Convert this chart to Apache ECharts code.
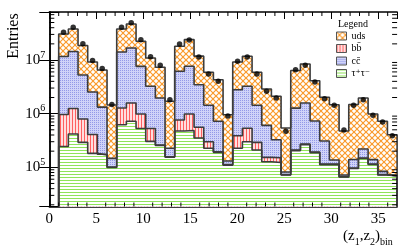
<!DOCTYPE html>
<html><head><meta charset="utf-8">
<script src="https://cdn.jsdelivr.net/npm/echarts@6/dist/echarts.min.js"></script>
<style>html,body{margin:0;padding:0;background:#fff}#c{width:417px;height:247px}</style>
</head><body><div id="c"></div>
<script>
// axis ranges
const xMin = 0, xMax = 37;
const histLo = 1, histHi = 37;
const yMin = 18600, yMax = 7.85e7;
const xTickStep = 5;
// per-bin contributions (35 bins)
const tautau = [2.44e5,4.18e5,2.92e5,1.82e5,1.70e5,9.9e4, 6.22e5,7.20e5,5.29e5,3.05e5,2.55e5,1.55e5, 4.75e5,4.85e5,3.52e5,2.26e5,1.90e5,1.10e5, 2.26e5,3.0e5,2.10e5,1.27e5,1.23e5,7.2e4, 2.05e5,2.65e5,1.88e5,1.12e5,1.12e5,6.6e4, 9.5e4,1.46e5,1.13e5,7.2e4,6.9e4];
const bbbar = [7.20e5,8.29e5,5.03e5,2.26e5,5e3,2e3, 6.52e5,8.59e5,4.56e5,2.24e5,6e3,2e3, 2.86e5,5.0e5,2.05e5,7.4e4,5e3,2e3, 1.62e5,2.33e5,8.2e4,2.6e4,2.8e4,1e3, 5e3,7e3,5e3,3e3,3e3,1e3, 2e3,3e3,2e3,1e3,1e3];
const ccbar = [1.066e7,1.315e7,4.458e6,2.12e6,1.15e6,4.6e4, 1.283e7,1.515e7,6.64e6,2.71e6,1.70e6,7.0e4, 5.40e6,6.65e6,2.91e6,1.131e6,5.25e5,1.9e4, 2.41e6,2.70e6,1.139e6,4.53e5,1.76e5,9e3, 1.06e6,1.31e6,5.36e5,1.94e5,2.2e4,5e3, 4.3e4,7.0e4,2.4e4,1.1e4,2e3];
const uds = [1.890e7,2.342e7,1.338e7,6.65e6,5.18e6,1.303e6, 2.372e7,3.015e7,1.468e7,7.67e6,5.35e6,1.472e6, 1.184e7,1.637e7,8.34e6,4.47e6,3.57e6,8.25e5, 6.38e6,8.49e6,4.47e6,2.27e6,1.78e6,4.58e5, 5.10e6,6.84e6,3.38e6,1.71e6,1.33e6,4.03e5, 1.34e6,1.74e6,8.46e5,6.36e5,3.33e5];
const dataPts = [3.28e7,4.07e7,2.01e7,9.79e6,6.94e6,1.48e6, 4.07e7,4.96e7,2.39e7,1.15e7,7.96e6,1.82e6, 1.99e7,2.36e7,1.14e7,5.48e6,4.01e6,9.04e5, 9.46e6,1.14e7,5.48e6,2.61e6,1.96e6,4.69e5, 6.60e6,7.96e6,3.89e6,1.90e6,1.43e6,4.96e5, 1.43e6,1.82e6,9.32e5,6.99e5,3.88e5];
const names = ['uds', 'bb\u0304', 'cc\u0304', '\u03c4\u207a\u03c4\u207b'];

const FONT = "'Liberation Serif','DejaVu Serif',serif";
const nBins = tautau.length;
const bw = (histHi - histLo) / nBins;
const edges = [];
for (let i = 0; i <= nBins; i++) edges.push(histLo + i * bw);

function cum(...arrs) { return arrs[0].map((_, i) => arrs.reduce((s, a) => s + a[i], 0)); }
const cT = cum(tautau), cB = cum(tautau, bbbar), cC = cum(tautau, bbbar, ccbar), cU = cum(tautau, bbbar, ccbar, uds);
function steps(v) {
  const p = [[histLo, yMin]];
  for (let i = 0; i < nBins; i++) p.push([edges[i], v[i]]);
  p.push([histHi, v[nBins - 1]]);
  p.push([histHi, yMin]);
  return p;
}
function pat(w, h, draw) {
  const c = document.createElement('canvas'); c.width = w; c.height = h;
  const g = c.getContext('2d'); draw(g, w, h);
  return { image: c, repeat: 'repeat' };
}
const udsPat = pat(6, 6, (g, w, h) => {
  g.fillStyle = '#fff'; g.fillRect(0, 0, w, h);
  g.strokeStyle = '#f99a2c'; g.lineWidth = 1.15;
  for (const k of [-6, 0, 6]) {
    g.beginPath(); g.moveTo(k, 0); g.lineTo(k + 6, 6); g.stroke();
    g.beginPath(); g.moveTo(k, 6); g.lineTo(k + 6, 0); g.stroke();
  }
});
const bbPat = pat(3, 3, (g) => { g.fillStyle = '#ffdede'; g.fillRect(0, 0, 3, 3); g.fillStyle = '#ff5f5f'; g.fillRect(0, 0, 1, 3); });
const ccPat = pat(2, 2, (g) => { g.fillStyle = '#d0d3f8'; g.fillRect(0, 0, 2, 2); g.fillStyle = '#9399e8'; g.fillRect(0, 0, 1, 1); });
const ttPat = pat(3, 3, (g) => { g.fillStyle = '#fff'; g.fillRect(0, 0, 3, 3); g.fillStyle = '#8fe35a'; g.fillRect(0, 0, 3, 1); });

function layer(name, vals, fill) {
  return { name, type: 'line', step: 'end', symbol: 'none', data: steps(vals),
    lineStyle: { color: '#3c3c3c', width: 1.6 }, itemStyle: { color: '#3c3c3c' },
    areaStyle: { color: fill, opacity: 1, origin: 'start' }, silent: true };
}
const yMinor = [];
for (let d = 4; d <= 7; d++) for (let m = 2; m <= 9; m++) { const v = m * Math.pow(10, d); if (v > yMin && v < yMax) yMinor.push(v); }
const xMinor = [];
for (let v = xMin + 1; v < xMax; v++) if (v % xTickStep) xMinor.push(v);

const chart = echarts.init(document.getElementById('c'), null, { renderer: 'canvas' });
const axLine = { show: true, lineStyle: { color: '#000', width: 1.5 } };
chart.setOption({
  animation: false,
  backgroundColor: '#fff',
  grid: { left: 49.3, right: 19.9, top: 12, bottom: 40.5 },
  xAxis: [
    { type: 'value', min: xMin, max: xMax, interval: xTickStep, position: 'bottom', axisLine: axLine,
      axisTick: { inside: true, length: 7, lineStyle: { color: '#000' } }, splitLine: { show: false },
      axisLabel: { formatter: v => (v % xTickStep === 0 ? String(v) : ''), fontFamily: FONT, fontSize: 15, color: '#000', margin: 5 } },
    { type: 'value', min: xMin, max: xMax, interval: xTickStep, position: 'top', axisLine: axLine,
      axisTick: { inside: true, length: 7, lineStyle: { color: '#000' } }, splitLine: { show: false }, axisLabel: { show: false } }
  ],
  yAxis: [
    { type: 'log', logBase: 10, min: yMin, max: yMax, position: 'left', axisLine: axLine,
      axisTick: { inside: true, length: 10, lineStyle: { color: '#000' } }, splitLine: { show: false },
      axisLabel: { fontFamily: FONT, fontSize: 15, color: '#000', margin: 4, lineHeight: 20,
        formatter: v => { const e = Math.round(Math.log10(v)); return Math.abs(v / Math.pow(10, e) - 1) < 1e-6 ? '10{sup|' + e + '}' : ''; },
        rich: { sup: { fontFamily: FONT, fontSize: 10, lineHeight: 11, verticalAlign: 'top', color: '#000' } } } },
    { type: 'log', logBase: 10, min: yMin, max: yMax, position: 'right', axisLine: axLine,
      axisTick: { inside: true, length: 10, lineStyle: { color: '#000' } }, splitLine: { show: false }, axisLabel: { show: false } }
  ],
  legend: {
    orient: 'vertical', left: 336, top: 31, itemWidth: 10, itemHeight: 8, itemGap: 2.5, padding: 0,
    textStyle: { fontFamily: FONT, fontSize: 10, color: '#000', lineHeight: 10 },
    data: [
      { name: names[0], icon: 'rect', itemStyle: { color: udsPat, borderColor: '#555', borderWidth: 1 } },
      { name: names[1], icon: 'rect', itemStyle: { color: bbPat, borderColor: '#555', borderWidth: 1 } },
      { name: names[2], icon: 'rect', itemStyle: { color: ccPat, borderColor: '#555', borderWidth: 1 } },
      { name: names[3], icon: 'rect', itemStyle: { color: ttPat, borderColor: '#555', borderWidth: 1 } }
    ], selectedMode: false
  },
  graphic: [
    { type: 'text', x: 14, y: 36, rotation: Math.PI / 2, style: { text: 'Entries', fontFamily: FONT, fontSize: 16, fill: '#000', align: 'center', verticalAlign: 'middle' } },
    { type: 'text', x: 338, y: 24, style: { text: 'Legend', fontFamily: FONT, fontSize: 10, fill: '#000', align: 'left', verticalAlign: 'middle' } },
    { type: 'text', x: 343, y: 225, style: { text: '(z{s|1},z{s|2}){s|bin}', fontFamily: FONT, fontSize: 15, lineHeight: 22, fill: '#000',
        rich: { s: { fontFamily: FONT, fontSize: 10, lineHeight: 11, verticalAlign: 'bottom', fill: '#000' } } } }
  ],
  series: [
    layer(names[0], cU, udsPat),
    layer(names[2], cC, ccPat),
    layer(names[1], cB, bbPat),
    layer(names[3], cT, ttPat),
    { name: 'data', type: 'scatter', symbol: 'circle', symbolSize: 5.5, itemStyle: { color: '#000' }, z: 5,
      data: dataPts.map((v, i) => [edges[i] + bw / 2, v]) },
    { type: 'custom', silent: true, clip: false, z: 6, data: yMinor.map(v => [xMin, v]),
      renderItem: (p, api) => { const a = api.coord([xMin, api.value(1)]), b = api.coord([xMax, api.value(1)]);
        return { type: 'group', children: [
          { type: 'line', shape: { x1: a[0], y1: a[1], x2: a[0] + 5, y2: a[1] }, style: { stroke: '#000', lineWidth: 1 } },
          { type: 'line', shape: { x1: b[0], y1: b[1], x2: b[0] - 5, y2: b[1] }, style: { stroke: '#000', lineWidth: 1 } } ] }; } },
    { type: 'custom', silent: true, clip: false, z: 6, data: xMinor.map(v => [v, yMin]),
      renderItem: (p, api) => { const a = api.coord([api.value(0), yMin]), b = api.coord([api.value(0), yMax]);
        return { type: 'group', children: [
          { type: 'line', shape: { x1: a[0], y1: a[1], x2: a[0], y2: a[1] - 4 }, style: { stroke: '#000', lineWidth: 1 } },
          { type: 'line', shape: { x1: b[0], y1: b[1], x2: b[0], y2: b[1] + 4 }, style: { stroke: '#000', lineWidth: 1 } } ] }; } }
  ]
});
</script></body></html>
